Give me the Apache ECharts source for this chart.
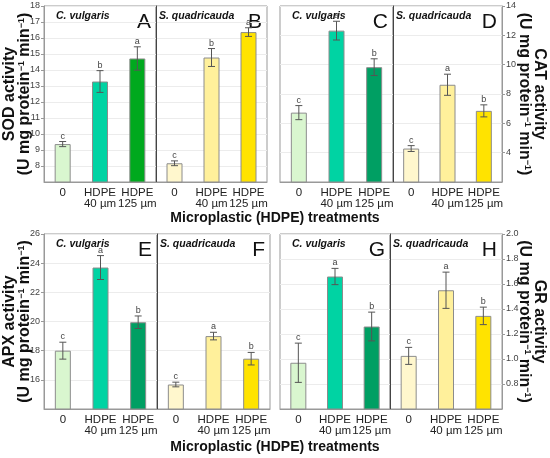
<!DOCTYPE html>
<html>
<head>
<meta charset="utf-8">
<script src="https://cdn.jsdelivr.net/npm/echarts@6/dist/echarts.min.js"></script>
<style>
  html, body { margin: 0; padding: 0; background: #fff; }
  #chart { width: 550px; height: 458px; }
</style>
</head>
<body>
<div id="chart"></div>
<script>
const categories = ['0', 'HDPE\n40 µm', 'HDPE\n125 µm'];

// SOD (A, B)
const sodCv = [9.37, 13.28, 14.72];
const sodCvErr = [0.16, 0.68, 0.73];
const sodCvSig = ['c', 'b', 'a'];
const sodSq = [8.17, 14.78, 16.37];
const sodSqErr = [0.15, 0.56, 0.27];
const sodSqSig = ['c', 'b', 'a'];

// CAT (C, D)
const catCv = [6.73, 12.32, 9.83];
const catCvErr = [0.48, 0.64, 0.57];
const catCvSig = ['c', 'a', 'b'];
const catSq = [4.28, 8.63, 6.85];
const catSqErr = [0.2, 0.72, 0.41];
const catSqSig = ['c', 'a', 'b'];

// APX (E, F)
const apxCv = [18.0, 23.7, 19.95];
const apxCvErr = [0.58, 0.82, 0.43];
const apxCvSig = ['c', 'a', 'b'];
const apxSq = [15.68, 19.0, 17.45];
const apxSqErr = [0.16, 0.26, 0.43];
const apxSqSig = ['c', 'a', 'b'];

// GR (G, H)
const grCv = [0.97, 1.66, 1.26];
const grCvErr = [0.157, 0.065, 0.115];
const grCvSig = ['c', 'a', 'b'];
const grSq = [1.025, 1.55, 1.345];
const grSqErr = [0.068, 0.145, 0.07];
const grSqSig = ['c', 'a', 'b'];

const cvColorsSod = ['#d9f6cf', '#00d3a3', '#00a91e'];
const cvColors = ['#d9f6cf', '#00d3a3', '#009f63'];
const sqColors = ['#fff7cd', '#fff09b', '#ffe300'];

const FONT = '"Liberation Sans", Arial, sans-serif';

const grids = [
  { left: 44, top: 6, width: 112, height: 176 },
  { left: 156, top: 6, width: 111, height: 176 },
  { left: 280, top: 6, width: 113, height: 176 },
  { left: 393, top: 6, width: 109, height: 176 },
  { left: 44, top: 234, width: 113, height: 175 },
  { left: 157, top: 234, width: 113, height: 175 },
  { left: 280, top: 234, width: 110, height: 175 },
  { left: 390, top: 234, width: 112, height: 175 }
];

const panels = [
  { v: sodCv, e: sodCvErr, s: sodCvSig, c: cvColorsSod, min: 7, max: 18, step: 1, role: 'left', letter: 'A', sp: 'C. vulgaris', name: 'SOD activity' },
  { v: sodSq, e: sodSqErr, s: sodSqSig, c: sqColors, min: 7, max: 18, step: 1, role: 'divL', letter: 'B', sp: 'S. quadricauda' },
  { v: catCv, e: catCvErr, s: catCvSig, c: cvColors, min: 2, max: 14, step: 2, role: 'divR', letter: 'C', sp: 'C. vulgaris' },
  { v: catSq, e: catSqErr, s: catSqSig, c: sqColors, min: 2, max: 14, step: 2, role: 'right', letter: 'D', sp: 'S. quadricauda', name: 'CAT activity' },
  { v: apxCv, e: apxCvErr, s: apxCvSig, c: cvColors, min: 14, max: 26, step: 2, role: 'left', letter: 'E', sp: 'C. vulgaris', name: 'APX activity' },
  { v: apxSq, e: apxSqErr, s: apxSqSig, c: sqColors, min: 14, max: 26, step: 2, role: 'divL', letter: 'F', sp: 'S. quadricauda' },
  { v: grCv, e: grCvErr, s: grCvSig, c: cvColors, min: 0.6, max: 2.0, step: 0.2, role: 'divR', letter: 'G', sp: 'C. vulgaris', dec: 1 },
  { v: grSq, e: grSqErr, s: grSqSig, c: sqColors, min: 0.6, max: 2.0, step: 0.2, role: 'right', letter: 'H', sp: 'S. quadricauda', name: 'GR activity', dec: 1 }
];

const xAxes = panels.map((p, i) => ({
  type: 'category',
  gridIndex: i,
  data: categories,
  axisLine: { lineStyle: { color: '#999' } },
  axisTick: { show: false },
  axisLabel: { color: '#222', fontSize: 11.5, lineHeight: 11.5, margin: 5, fontFamily: FONT, interval: 0 }
}));

const yAxes = panels.map((p, i) => {
  const shown = p.role === 'left' || p.role === 'right';
  const ax = {
    type: 'value',
    gridIndex: i,
    min: p.min,
    max: p.max,
    interval: p.step,
    position: (p.role === 'left' || p.role === 'divL') ? 'left' : 'right',
    axisLine: { show: true, lineStyle: { color: shown ? '#999' : '#444', width: 1 } },
    axisTick: { show: shown, length: 3, lineStyle: { color: '#999' } },
    splitLine: { show: true, lineStyle: { color: '#ececec' } },
    axisLabel: {
      show: shown,
      showMinLabel: false,
      color: '#444',
      fontSize: 9,
      margin: 4,
      fontFamily: FONT,
      formatter: (val) => p.dec ? val.toFixed(p.dec) : String(Math.round(val))
    }
  };
  if (p.name) {
    ax.name = '{a|' + p.name + '}\n{a|(U mg protein}{s|\u22121}{a| min}{s|\u22121}{a|)}';
    ax.nameLocation = 'middle';
    ax.nameRotate = p.role === 'left' ? 90 : -90;
    ax.nameMoveOverlap = false;
    ax.nameGap = p.role === 'left' ? 12 : 15;
    ax.nameTextStyle = {
      fontFamily: FONT,
      lineHeight: 15,
      rich: {
        a: { fontSize: 16, fontWeight: 'bold', color: '#111', lineHeight: 15, fontFamily: FONT },
        s: { fontSize: 9, fontWeight: 'bold', color: '#111', lineHeight: 15, verticalAlign: 'top', fontFamily: FONT }
      }
    };
  }
  return ax;
});

const series = [];
panels.forEach((p, i) => {
  series.push({
    type: 'bar',
    xAxisIndex: i,
    yAxisIndex: i,
    barWidth: 16,
    silent: true,
    data: p.v.map((val, k) => ({
      value: val,
      itemStyle: { color: p.c[k], borderColor: '#8c8c8c', borderWidth: 1 }
    }))
  });
  series.push({
    type: 'custom',
    xAxisIndex: i,
    yAxisIndex: i,
    silent: true,
    z: 5,
    data: p.v.map((val, k) => [k, val, p.e[k]]),
    renderItem: (params, api) => {
      const k = api.value(0);
      const m = api.value(1);
      const e = api.value(2);
      const hi = api.coord([k, m + e]);
      const lo = api.coord([k, m - e]);
      const w = 3.5;
      const st = { stroke: '#555', lineWidth: 1 };
      return {
        type: 'group',
        children: [
          { type: 'line', shape: { x1: hi[0], y1: hi[1], x2: lo[0], y2: lo[1] }, style: st },
          { type: 'line', shape: { x1: hi[0] - w, y1: hi[1], x2: hi[0] + w, y2: hi[1] }, style: st },
          { type: 'line', shape: { x1: lo[0] - w, y1: lo[1], x2: lo[0] + w, y2: lo[1] }, style: st },
          {
            type: 'text',
            style: {
              text: p.s[params.dataIndex],
              x: hi[0],
              y: hi[1] - 1,
              align: 'center',
              verticalAlign: 'bottom',
              fontSize: 9,
              fontFamily: FONT,
              fill: '#444'
            }
          }
        ]
      };
    }
  });
});

const graphics = [];
panels.forEach((p, i) => {
  const g = grids[i];
  const isLeftHalf = p.role === 'left' || p.role === 'divR';
  graphics.push({
    type: 'text',
    left: g.left + (isLeftHalf ? 12 : 3),
    top: g.top + 5,
    style: { text: p.sp, fontSize: 10.5, fontWeight: 'bold', fontStyle: 'italic', fill: '#111', fontFamily: FONT }
  });
  graphics.push({
    type: 'text',
    right: 550 - (g.left + g.width) + 5,
    top: g.top + 6,
    style: { text: p.letter, fontSize: 21, fill: '#111', fontFamily: FONT }
  });
});
[219, 448].forEach((y) => {
  graphics.push({
    type: 'text',
    left: 'center',
    top: y - 8,
    style: { text: 'Microplastic (HDPE) treatments', fontSize: 14, fontWeight: 'bold', fill: '#111', fontFamily: FONT }
  });
});

const chart = echarts.init(document.getElementById('chart'), null, { renderer: 'canvas' });
chart.setOption({
  animation: false,
  backgroundColor: '#fff',
  grid: grids.map((g) => Object.assign({ show: true, borderColor: '#999', borderWidth: 1, containLabel: false, outerBoundsMode: 'none' }, g)),
  xAxis: xAxes,
  yAxis: yAxes,
  series: series,
  graphic: graphics
});
</script>
</body>
</html>
